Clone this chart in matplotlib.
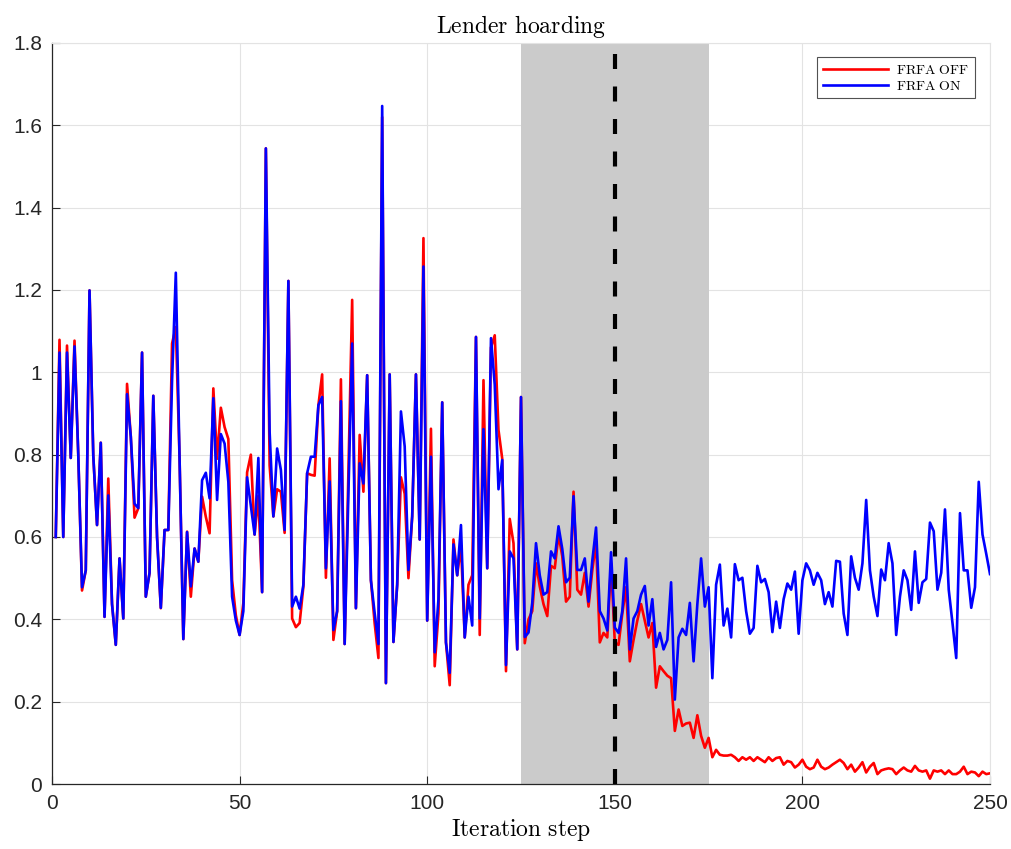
import numpy as np
import matplotlib
matplotlib.use("Agg")
import matplotlib.pyplot as plt
from matplotlib.ticker import FuncFormatter, MultipleLocator

# Lender hoarding per iteration step, with and without the FRFA policy
steps = np.arange(1, 251)

frfa_on = [
    0.60, 1.048, 0.60, 1.048, 0.792, 1.063, 0.80, 0.478, 0.519, 1.199,
    0.798, 0.629, 0.829, 0.406, 0.701, 0.437, 0.338, 0.548, 0.402, 0.947,
    0.844, 0.681, 0.67, 1.048, 0.455, 0.513, 0.943, 0.60, 0.428, 0.617,
    0.617, 0.98, 1.242, 0.79, 0.352, 0.612, 0.48, 0.572, 0.54, 0.738,
    0.756, 0.694, 0.937, 0.69, 0.85, 0.827, 0.734, 0.455, 0.397, 0.362,
    0.42, 0.745, 0.676, 0.606, 0.792, 0.466, 1.544, 0.856, 0.65, 0.815,
    0.763, 0.617, 1.222, 0.431, 0.455, 0.426, 0.484, 0.755, 0.795, 0.795,
    0.92, 0.94, 0.524, 0.735, 0.374, 0.42, 0.93, 0.34, 0.71, 1.07,
    0.427, 0.779, 0.73, 0.993, 0.495, 0.415, 0.34, 1.647, 0.245, 0.995,
    0.345, 0.484, 0.905, 0.82, 0.52, 0.65, 0.995, 0.594, 1.257, 0.397,
    0.795, 0.32, 0.449, 0.927, 0.344, 0.27, 0.582, 0.507, 0.629, 0.356,
    0.455, 0.385, 1.086, 0.402, 0.862, 0.524, 1.083, 0.97, 0.716, 0.787,
    0.289, 0.565, 0.548, 0.327, 0.94, 0.357, 0.368, 0.44, 0.585, 0.507,
    0.46, 0.466, 0.565, 0.548, 0.626, 0.571, 0.49, 0.501, 0.699, 0.52,
    0.52, 0.548, 0.443, 0.542, 0.623, 0.42, 0.402, 0.373, 0.563, 0.38,
    0.367, 0.42, 0.548, 0.327, 0.402, 0.42, 0.46, 0.481, 0.385, 0.449,
    0.333, 0.367, 0.327, 0.35, 0.49, 0.205, 0.356, 0.377, 0.362, 0.44,
    0.298, 0.437, 0.548, 0.431, 0.478, 0.257, 0.484, 0.533, 0.385, 0.426,
    0.356, 0.534, 0.495, 0.501, 0.42, 0.365, 0.379, 0.53, 0.49, 0.498,
    0.466, 0.369, 0.443, 0.379, 0.449, 0.487, 0.472, 0.516, 0.365, 0.495,
    0.536, 0.519, 0.484, 0.513, 0.495, 0.437, 0.466, 0.431, 0.542, 0.54,
    0.414, 0.362, 0.553, 0.501, 0.472, 0.536, 0.69, 0.519, 0.455, 0.408,
    0.521, 0.495, 0.585, 0.536, 0.362, 0.455, 0.519, 0.495, 0.423, 0.565,
    0.44, 0.49, 0.498, 0.635, 0.614, 0.472, 0.513, 0.667, 0.472, 0.391,
    0.306, 0.658, 0.519, 0.519, 0.428, 0.478, 0.734, 0.606, 0.559, 0.51,
]

frfa_off = [
    0.60, 1.079, 0.60, 1.065, 0.792, 1.077, 0.80, 0.47, 0.519, 1.199,
    0.798, 0.629, 0.829, 0.406, 0.742, 0.437, 0.338, 0.548, 0.402, 0.972,
    0.844, 0.647, 0.67, 1.048, 0.455, 0.513, 0.943, 0.60, 0.427, 0.617,
    0.617, 1.07, 1.11, 0.79, 0.352, 0.613, 0.455, 0.572, 0.54, 0.698,
    0.649, 0.609, 0.961, 0.79, 0.914, 0.867, 0.838, 0.495, 0.41, 0.362,
    0.44, 0.757, 0.80, 0.606, 0.70, 0.466, 1.544, 0.774, 0.65, 0.716,
    0.71, 0.61, 1.222, 0.402, 0.381, 0.391, 0.48, 0.755, 0.751, 0.749,
    0.92, 0.995, 0.501, 0.791, 0.35, 0.42, 0.983, 0.34, 0.76, 1.176,
    0.427, 0.848, 0.71, 0.993, 0.495, 0.39, 0.306, 1.62, 0.245, 0.995,
    0.345, 0.484, 0.745, 0.705, 0.50, 0.65, 0.995, 0.594, 1.326, 0.397,
    0.863, 0.286, 0.414, 0.927, 0.344, 0.24, 0.594, 0.507, 0.58, 0.356,
    0.484, 0.507, 1.086, 0.362, 0.981, 0.524, 1.06, 1.09, 0.86, 0.79,
    0.274, 0.644, 0.585, 0.327, 0.94, 0.342, 0.40, 0.42, 0.536, 0.48,
    0.437, 0.408, 0.53, 0.524, 0.606, 0.553, 0.443, 0.455, 0.71, 0.472,
    0.46, 0.513, 0.431, 0.519, 0.588, 0.344, 0.367, 0.356, 0.536, 0.344,
    0.338, 0.414, 0.478, 0.298, 0.35, 0.397, 0.437, 0.397, 0.356, 0.391,
    0.234, 0.286, 0.274, 0.263, 0.257, 0.129, 0.181, 0.141, 0.147, 0.149,
    0.112, 0.167, 0.117, 0.088, 0.112, 0.065, 0.083, 0.071, 0.069, 0.069,
    0.071, 0.065, 0.056, 0.065, 0.059, 0.065, 0.056, 0.065, 0.059, 0.053,
    0.065, 0.056, 0.063, 0.065, 0.047, 0.056, 0.053, 0.04, 0.047, 0.059,
    0.042, 0.036, 0.04, 0.059, 0.042, 0.036, 0.04, 0.047, 0.053, 0.059,
    0.051, 0.036, 0.047, 0.03, 0.04, 0.053, 0.028, 0.042, 0.051, 0.024,
    0.033, 0.036, 0.038, 0.036, 0.024, 0.033, 0.04, 0.033, 0.03, 0.044,
    0.033, 0.03, 0.033, 0.013, 0.033, 0.03, 0.033, 0.024, 0.033, 0.024,
    0.024, 0.03, 0.042, 0.024, 0.03, 0.028, 0.019, 0.03, 0.024, 0.026,
]

series_labels = ["FRFA OFF", "FRFA ON"]
series_colors = ["#ff0000", "#0000ff"]
shock_window = (125, 175)
shock_step = 150

plt.rcParams["font.family"] = ["Liberation Sans", "DejaVu Sans"]
plt.rcParams["mathtext.fontset"] = "cm"

fig = plt.figure(figsize=(10.11, 8.49), dpi=100)
ax = fig.add_axes([52 / 1011, 65 / 849, 938 / 1011, 741 / 849])

ax.set_axisbelow(True)
ax.grid(True, color="#e3e3e3", linewidth=0.8)

ax.axvspan(*shock_window, color="#cbcbcb", lw=0, zorder=1)

ax.plot(steps, frfa_off, color=series_colors[0], lw=1.9, zorder=3,
        label=r"$\mathrm{%s}$" % series_labels[0].replace(" ", r"\ "))
ax.plot(steps, frfa_on, color=series_colors[1], lw=1.9, zorder=4,
        label=r"$\mathrm{%s}$" % series_labels[1].replace(" ", r"\ "))

ax.axvline(shock_step, color="black", lw=3.0, linestyle=(0, (3.6, 4.2)), zorder=5)

ax.set_xlim(0, 250)
ax.set_ylim(0, 1.8)
ax.xaxis.set_major_locator(MultipleLocator(50))
ax.yaxis.set_major_locator(MultipleLocator(0.2))
ax.yaxis.set_major_formatter(FuncFormatter(lambda v, p: "%g" % round(v, 1)))

ax.tick_params(direction="in", length=6, width=0.8, labelsize=15,
               colors="#262626", top=False, right=False, pad=7)
for side in ("left", "bottom"):
    ax.spines[side].set_color("#262626")
    ax.spines[side].set_linewidth(0.9)
for side in ("top", "right"):
    ax.spines[side].set_color("#e3e3e3")
    ax.spines[side].set_linewidth(0.8)

ax.set_title(r"$\mathrm{Lender\ hoarding}$", fontsize=17, pad=7)
ax.set_xlabel(r"$\mathrm{Iteration\ step}$", fontsize=17, labelpad=3)

leg = ax.legend(loc="upper right", bbox_to_anchor=(0.984, 0.981), fontsize=10,
                handlelength=4.7, frameon=True, fancybox=False,
                borderpad=0.4, labelspacing=0.15, handletextpad=0.6,
                borderaxespad=0.0)
leg.get_frame().set_edgecolor("#262626")
leg.get_frame().set_linewidth(0.8)

fig.savefig("out.png", dpi=100)
